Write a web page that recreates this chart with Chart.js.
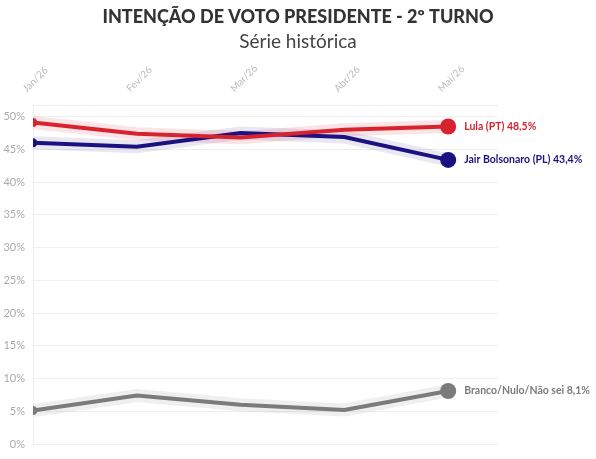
<!DOCTYPE html>
<html>
<head>
<meta charset="utf-8">
<script src="https://cdn.jsdelivr.net/npm/chart.js@4"></script>
<style>
  body { margin: 0; background: #fff; }
  #wrap { width: 596px; height: 459px; }
</style>
</head>
<body>
<div id="wrap"><canvas id="chart"></canvas></div>
<script>
// dados
const months = ["Jan/26", "Fev/26", "Mar/26", "Abr/26", "Mai/26"];
const lula = [49.1, 47.4, 46.8, 48.0, 48.5];
const bolsonaro = [46.0, 45.4, 47.5, 46.9, 43.4];
const branco = [5.1, 7.4, 6.0, 5.2, 8.1];
const yTicks = [0, 5, 10, 15, 20, 25, 30, 35, 40, 45, 50];
const seriesNames = ["Lula (PT)", "Jair Bolsonaro (PL)", "Branco/Nulo/Não sei"];
const seriesColors = ["#d8232f", "#1b1180", "#7b7b7b"];
const haloColors = ["rgba(216,35,47,0.12)", "rgba(27,17,128,0.10)", "rgba(123,123,123,0.12)"];

const allSeries = [lula, bolsonaro, branco];
const toXY = (arr) => arr.map((v, i) => ({ x: i, y: v }));

const datasets = [];
allSeries.forEach((arr, k) => {
  datasets.push({
    data: toXY(arr),
    borderColor: haloColors[k],
    borderWidth: 13,
    pointRadius: 0,
    tension: 0,
    order: 10,
  });
});
allSeries.forEach((arr, k) => {
  datasets.push({
    label: seriesNames[k],
    data: toXY(arr),
    borderColor: seriesColors[k],
    backgroundColor: seriesColors[k],
    borderWidth: 4,
    tension: 0,
    order: 1,
    pointRadius: (ctx) => (ctx.dataIndex === 0 ? 4.5 : ctx.dataIndex === arr.length - 1 ? 8 : 0),
    pointBorderWidth: 0,
    endLabel: seriesNames[k] + " " + arr[arr.length - 1].toFixed(1).replace(".", ",") + "%",
  });
});

const endLabels = {
  id: "endLabels",
  afterDatasetsDraw(chart) {
    const ctx = chart.ctx;
    ctx.save();
    ctx.font = "bold 10.5px Lato";
    ctx.textBaseline = "middle";
    chart.data.datasets.forEach((ds, i) => {
      if (!ds.endLabel) return;
      const meta = chart.getDatasetMeta(i);
      const pt = meta.data[meta.data.length - 1];
      ctx.fillStyle = ds.borderColor;
      ctx.fillText(ds.endLabel, pt.x + 16, pt.y);
    });
    ctx.restore();
  },
};

new Chart(document.getElementById("chart"), {
  type: "line",
  data: { datasets: datasets },
  plugins: [endLabels],
  options: {
    responsive: true,
    maintainAspectRatio: false,
    animation: false,
    layout: { padding: { left: 0, right: 0, top: 0, bottom: 15 } },
    plugins: {
      legend: { display: false },
      tooltip: { enabled: false },
      title: {
        display: true,
        text: "INTENÇÃO DE VOTO PRESIDENTE - 2º TURNO",
        color: "#333",
        font: { family: "Lato", size: 18, weight: "900" },
        padding: { top: 6, bottom: 3 },
      },
      subtitle: {
        display: true,
        text: "Série histórica",
        color: "#444",
        font: { family: "Lato", size: 19, weight: "normal" },
        padding: { top: 0, bottom: 6 },
      },
    },
    scales: {
      x: {
        type: "linear",
        position: "top",
        min: 0,
        max: 4.48,
        afterBuildTicks: (axis) => {
          axis.ticks = months.map((m, i) => ({ value: i }));
        },
        ticks: {
          color: "#bbb",
          font: { family: "Lato", size: 10 },
          maxRotation: 45,
          minRotation: 45,
          callback: (v) => months[v],
        },
        grid: { display: false },
        border: { color: "#eee" },
      },
      y: {
        min: 0,
        max: 51.7,
        afterBuildTicks: (axis) => {
          axis.ticks = yTicks.map((v) => ({ value: v }));
        },
        afterFit: (axis) => {
          axis.width = 33;
        },
        ticks: {
          color: "#aaa",
          padding: 8,
          font: { family: "Lato", size: 11 },
          callback: (v) => v + "%",
        },
        grid: { color: "#efefef", drawTicks: false },
        border: { color: "#eee" },
      },
      // espaço à direita para os rótulos finais
      side: {
        position: "right",
        display: true,
        afterFit: (axis) => {
          axis.width = 98;
        },
        ticks: { display: false },
        grid: { display: false },
        border: { display: false },
      },
    },
  },
});
</script>
</body>
</html>
